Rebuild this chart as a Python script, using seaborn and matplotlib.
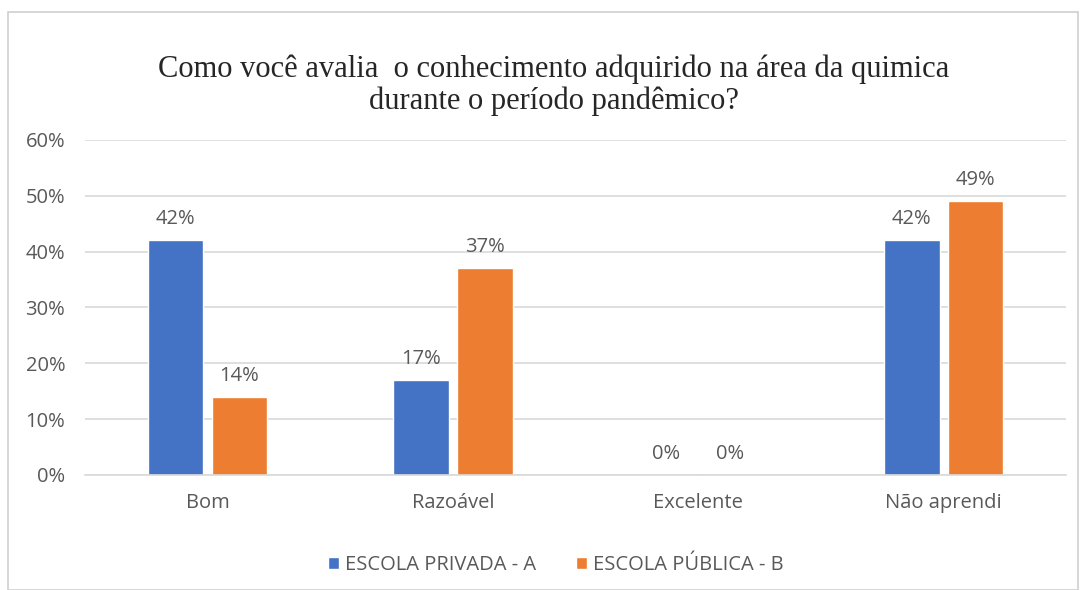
import matplotlib
matplotlib.use("Agg")
import matplotlib.pyplot as plt
from matplotlib.patches import Rectangle
from matplotlib.ticker import PercentFormatter
import pandas as pd
import seaborn as sns

categories = ["Bom", "Razoável", "Excelente", "Não aprendi"]
series_names = ["ESCOLA PRIVADA - A", "ESCOLA PÚBLICA - B"]
privada = [0.42, 0.17, 0.00, 0.42]
publica = [0.14, 0.37, 0.00, 0.49]
colors = ["#4472C4", "#ED7D31"]
title = "Como você avalia  o conhecimento adquirido na área da quimica\ndurante o período pandêmico?"

df = pd.DataFrame({
    "categoria": categories * 2,
    "escola": [series_names[0]] * len(categories) + [series_names[1]] * len(categories),
    "valor": privada + publica,
})

sns.set_theme(style="white")
plt.rcParams["font.family"] = ["Open Sans", "DejaVu Sans"]

fig = plt.figure(figsize=(10.86, 5.9), dpi=100)
ax = fig.add_axes([0.078, 0.195, 0.904, 0.568])

sns.barplot(data=df, x="categoria", y="valor", hue="escola", order=categories,
            hue_order=series_names, palette=colors, width=0.52, gap=0.13,
            saturation=1, ax=ax, legend=True, errorbar=None)

text_color = "#595959"
ax.set_ylim(0, 0.6)
ax.set_yticks([0, 0.1, 0.2, 0.3, 0.4, 0.5, 0.6])
ax.yaxis.set_major_formatter(PercentFormatter(1.0, decimals=0))
ax.grid(axis="y", color="#d9d9d9", linewidth=1.2)
ax.set_axisbelow(True)
for side in ["top", "right", "left"]:
    ax.spines[side].set_visible(False)
ax.spines["bottom"].set_color("#d9d9d9")
ax.spines["bottom"].set_linewidth(1.2)
ax.set_xlabel("")
ax.set_ylabel("")
ax.tick_params(axis="both", length=0, labelsize=14.5, labelcolor=text_color)
ax.tick_params(axis="x", pad=13)
ax.tick_params(axis="y", pad=14)

for container in ax.containers:
    ax.bar_label(container, labels=[f"{v * 100:.0f}%" for v in container.datavalues],
                 padding=8, fontsize=14.5, color=text_color)

handles, labels = ax.get_legend_handles_labels()
ax.legend(handles, labels, loc="upper center", bbox_to_anchor=(0.48, -0.185),
          ncol=2, frameon=False, fontsize=14.5, labelcolor=text_color,
          handlelength=0.55, handleheight=0.55, handletextpad=0.3, columnspacing=2.0)

fig.text(0.51, 0.856, title, ha="center", va="center", fontsize=22,
         family=["Liberation Serif", "DejaVu Serif"], color="#262626", linespacing=1.1)

fig.patches.append(Rectangle((8 / 1086, 0), 1 - 16 / 1086, 1 - 12 / 590,
                             transform=fig.transFigure, fill=False,
                             edgecolor="#d0d0d0", linewidth=1.2))

fig.savefig("out.png", dpi=100, facecolor="white")
